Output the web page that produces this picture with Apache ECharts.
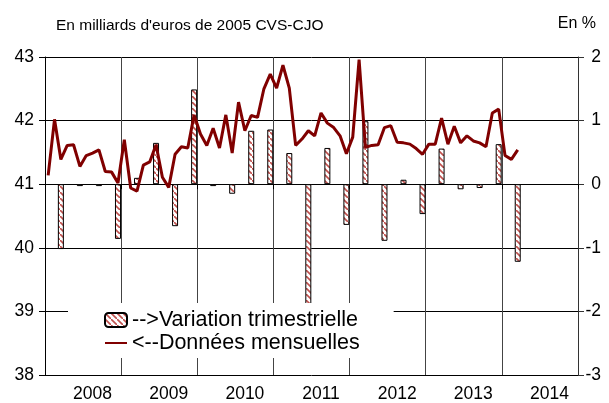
<!DOCTYPE html>
<html style="height: 100%">
<head>
    <meta charset="utf-8">
</head>
<body style="height: 100%; margin: 0; background: #fff">
<div id="chart_container" style="width: 609px; height: 403px"></div>
<script src="https://cdn.jsdelivr.net/npm/echarts@6/dist/echarts.min.js"></script>
<script type="text/javascript">

    // années affichées sous l'axe (une par bloc de 12 mois)
    var yearLabels = ['2008', '2009', '2010', '2011', '2012', '2013', '2014'];

    // données mensuelles, milliards d'euros de 2005 (axe de gauche)
    var monthlyValues = [
        41.14, 42.02, 41.39, 41.61, 41.62, 41.28, 41.45, 41.49, 41.54, 41.20, 41.19, 41.02,
        41.70, 40.94, 40.89, 41.30, 41.35, 41.62, 41.11, 40.95, 41.47, 41.59, 41.57, 42.09,
        41.79, 41.61, 41.88, 41.57, 42.09, 41.49, 42.29, 41.84, 42.08, 42.05, 42.50, 42.73,
        42.51, 42.87, 42.51, 41.61, 41.71, 41.84, 41.76, 42.12, 41.96, 41.89, 41.76, 41.48,
        41.74, 42.96, 41.58, 41.61, 41.62, 41.89, 41.92, 41.66, 41.65, 41.63, 41.56, 41.47,
        41.63, 41.63, 42.04, 41.63, 41.91, 41.65, 41.76, 41.68, 41.65, 41.59, 42.12, 42.18,
        41.45, 41.39, 41.54
    ];

    // variation trimestrielle en % (axe de droite), un point tous les 3 mois
    var quarterlyValues = [
        -1.02, -0.03, -0.03, -0.86, 0.10, 0.65, -0.66, 1.49, -0.03, -0.15,
        0.84, 0.86, 0.49, -1.95, 0.57, -0.64, 0.99, -0.89, 0.07, -0.47,
        0.56, -0.08, -0.06, 0.63, -1.22
    ];

    var leftTicks = {min: 38, max: 43, interval: 1};
    var rightTicks = {min: -3, max: 2, interval: 1};

    var nbMonths = yearLabels.length * 12;
    var categories = [];
    var lineData = [];
    var barData = [];
    for (var i = 0; i < nbMonths; i++) {
        categories.push(i % 12 === 7 ? yearLabels[(i - 7) / 12] : '');
        lineData.push(i < monthlyValues.length ? monthlyValues[i] : null);
        barData.push((i % 3 === 2 && (i - 2) / 3 < quarterlyValues.length) ? quarterlyValues[(i - 2) / 3] : '-');
    }

    // motif hachuré des barres
    var patternCanvas = document.createElement('canvas');
    patternCanvas.width = 6;
    patternCanvas.height = 6;
    var pctx = patternCanvas.getContext('2d');
    pctx.fillStyle = '#ffffff';
    pctx.fillRect(0, 0, 6, 6);
    pctx.strokeStyle = '#c0504d';
    pctx.lineWidth = 1.6;
    pctx.beginPath();
    pctx.moveTo(0, 0);
    pctx.lineTo(6, 6);
    pctx.stroke();

    var fontName = 'Liberation Sans, Arial, sans-serif';

    var option = {
        animation: false,
        backgroundColor: '#ffffff',
        title: [
            {
                text: "En milliards d'euros de 2005 CVS-CJO",
                left: 51,
                top: 13,
                textStyle: {fontFamily: fontName, fontSize: 15.5, fontWeight: 'normal', color: '#000'}
            },
            {
                text: 'En %',
                right: 8,
                top: 11,
                textStyle: {fontFamily: fontName, fontSize: 16, fontWeight: 'normal', color: '#000'}
            }
        ],
        legend: {
            orient: 'vertical',
            left: 68,
            top: 303,
            padding: [6, 34, 4, 36],
            backgroundColor: '#ffffff',
            itemWidth: 22,
            itemHeight: 14,
            itemGap: 1,
            textStyle: {fontFamily: fontName, fontSize: 21.5, color: '#000'},
            data: [
                {name: '-->Variation trimestrielle'},
                {name: '<--Données mensuelles', itemStyle: {opacity: 0}}
            ]
        },
        grid: {
            left: 45,
            right: 31,
            top: 57,
            bottom: 27,
            containLabel: false
        },
        xAxis: [
            {
                type: 'category',
                boundaryGap: true,
                data: categories,
                axisLine: {show: true, lineStyle: {color: '#000'}},
                axisTick: {
                    show: true,
                    length: 5,
                    interval: function (idx) { return idx % 12 === 0; },
                    lineStyle: {color: '#000'}
                },
                axisLabel: {
                    interval: function (idx) { return idx % 12 === 7; },
                    margin: 10,
                    fontFamily: fontName,
                    fontSize: 17.5,
                    color: '#000'
                },
                splitLine: {
                    show: true,
                    interval: function (idx) { return idx % 12 === 0; },
                    lineStyle: {color: '#444', width: 1}
                }
            }
        ],
        yAxis: [
            {
                type: 'value',
                position: 'left',
                min: leftTicks.min,
                max: leftTicks.max,
                interval: leftTicks.interval,
                axisLine: {show: true, lineStyle: {color: '#000'}},
                axisTick: {show: true, length: 6, lineStyle: {color: '#000'}},
                axisLabel: {margin: 11, fontFamily: fontName, fontSize: 17.5, color: '#000'},
                splitLine: {show: true, lineStyle: {color: '#000', width: 1}}
            },
            {
                type: 'value',
                position: 'right',
                min: rightTicks.min,
                max: rightTicks.max,
                interval: rightTicks.interval,
                axisLine: {show: true, lineStyle: {color: '#333'}},
                axisTick: {show: true, length: 6, lineStyle: {color: '#333'}},
                axisLabel: {margin: 23, align: 'right', fontFamily: fontName, fontSize: 17.5, color: '#000'},
                splitLine: {show: false}
            }
        ],
        series: [
            {
                name: '-->Variation trimestrielle',
                type: 'bar',
                yAxisIndex: 1,
                barWidth: 6,
                z: 2,
                itemStyle: {
                    color: {image: patternCanvas, repeat: 'repeat'},
                    borderColor: '#000',
                    borderWidth: 1
                },
                data: barData
            },
            {
                name: '<--Données mensuelles',
                type: 'line',
                yAxisIndex: 0,
                z: 3,
                symbol: 'none',
                connectNulls: false,
                lineStyle: {color: '#800000', width: 3},
                itemStyle: {color: '#800000'},
                data: lineData
            }
        ]
    };

    var chart_container = document.getElementById('chart_container');
    var myChart = echarts.init(chart_container);
    myChart.setOption(option, true);
</script>
</body>
</html>
